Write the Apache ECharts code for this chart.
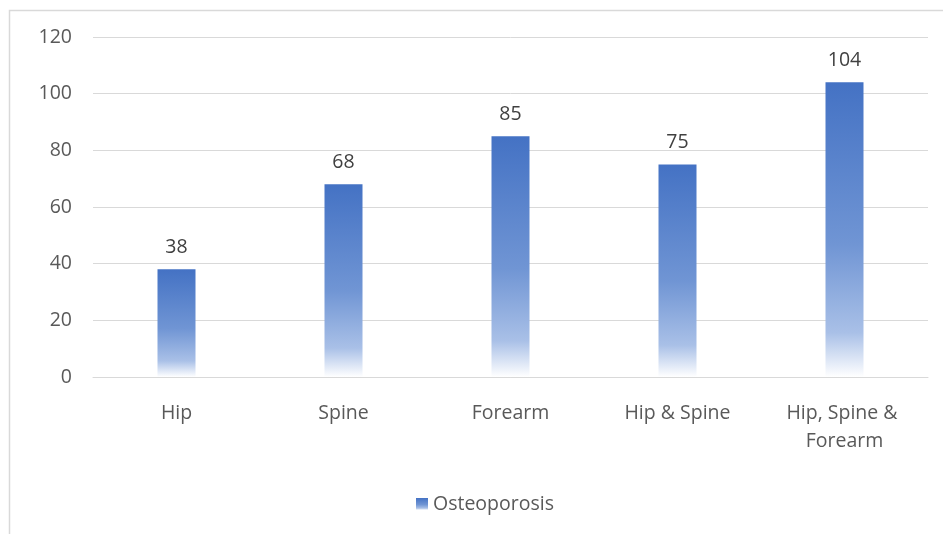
<!DOCTYPE html>
<html><head><meta charset="utf-8">
<script src="https://cdn.jsdelivr.net/npm/echarts@6/dist/echarts.min.js"></script>
<style>html,body{margin:0;padding:0;background:#fff}#c{width:943px;height:534px}</style>
</head><body><div id="c"></div>
<script>
const categories = ["Hip", "Spine", "Forearm", "Hip & Spine", "Hip, Spine & Forearm"];
const seriesName = "Osteoporosis";
const values = [38, 68, 85, 75, 104];
const yTicks = {min: 0, max: 120, interval: 20};

const FONT = "Open Sans";
const FS = 19.5;
const grad = new echarts.graphic.LinearGradient(0, 0, 0, 1, [
  {offset: 0, color: '#4472C4'},
  {offset: 0.55, color: '#7095d4'},
  {offset: 0.85, color: '#a9c0e7'},
  {offset: 1, color: '#ffffff'}
]);
const chart = echarts.init(document.getElementById('c'), null, {renderer: 'canvas'});
chart.setOption({
  animation: false,
  backgroundColor: '#fff',
  textStyle: {fontFamily: FONT},
  graphic: [{type: 'rect', shape: {x: 9.5, y: 10.5, width: 1000, height: 1000}, style: {fill: 'none', stroke: '#d9d9d9', lineWidth: 1.5}, silent: true}],
  grid: {left: 93, right: 15, top: 37, bottom: 157},
  legend: {bottom: 15, left: 411, itemWidth: 12, itemHeight: 12, itemGap: 8,
    textStyle: {fontFamily: FONT, fontSize: FS, color: '#595959'}, data: [{name: seriesName, icon: 'rect'}]},
  xAxis: {type: 'category', data: categories,
    axisLine: {lineStyle: {color: '#d9d9d9', width: 1}}, axisTick: {show: false},
    axisLabel: {fontFamily: FONT, fontSize: FS, color: '#595959', margin: 22, width: 150, overflow: 'break', lineHeight: 28, interval: 0}},
  yAxis: {type: 'value', min: yTicks.min, max: yTicks.max, interval: yTicks.interval,
    axisLine: {show: false}, axisTick: {show: false},
    splitLine: {lineStyle: {color: '#d9d9d9', width: 1}},
    axisLabel: {fontFamily: FONT, fontSize: FS, color: '#595959', margin: 21}},
  series: [{name: seriesName, type: 'bar', data: values, barWidth: 38,
    itemStyle: {color: grad},
    label: {show: true, position: 'top', distance: 12, fontFamily: FONT, fontSize: FS, color: '#404040'}}]
});
</script></body></html>
